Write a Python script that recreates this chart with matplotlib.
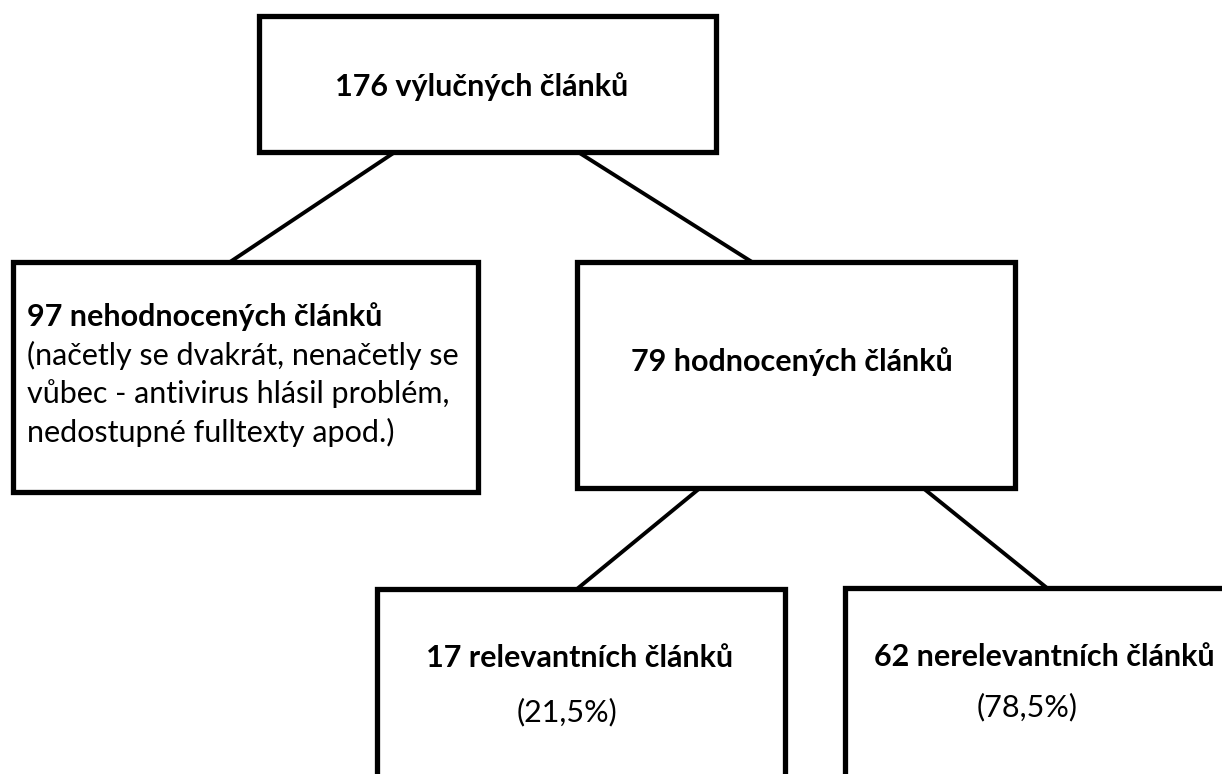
import matplotlib
matplotlib.use('Agg')
import matplotlib.pyplot as plt
from matplotlib.patches import Rectangle

plt.rcParams['font.family'] = ['Lato', 'DejaVu Sans']

# uzly diagramu: pocty clanku a popisky
counts = [176, 97, 79, 17, 62]
titles = ['výlučných článků', 'nehodnocených článků', 'hodnocených článků',
          'relevantních článků', 'nerelevantních článků']
notes = ['', '(načetly se dvakrát, nenačetly se\nvůbec - antivirus hlásil problém,\nnedostupné fulltexty apod.)',
         '', '(21,5%)', '(78,5%)']

# rozlozeni (px): x0, y0, x1, y1
boxes = [(259, 16, 716, 152), (13, 262, 478, 492), (577, 262, 1015, 488),
         (377, 589, 785, 790), (845, 588, 1240, 790)]
links = [((395, 152), (230, 262)), ((578, 152), (752, 262)),
         ((700, 488), (577, 589)), ((923, 488), (1047, 588))]

fig = plt.figure(figsize=(12.22, 7.74), dpi=100)
ax = fig.add_axes([0, 0, 1, 1])
ax.set_xlim(0, 1222)
ax.set_ylim(774, 0)
ax.axis('off')

for (a, b) in links:
    ax.plot([a[0], b[0]], [a[1], b[1]], color='black', lw=2.8, solid_capstyle='butt')

for (x0, y0, x1, y1) in boxes:
    ax.add_patch(Rectangle((x0, y0), x1 - x0, y1 - y0, fill=True, facecolor='white',
                           edgecolor='black', lw=3.8, zorder=2))

fs = 22
ax.text(482, 87, f'{counts[0]} {titles[0]}', ha='center', va='center', fontsize=fs, fontweight='bold', zorder=3)

ax.text(27, 317, f'{counts[1]} {titles[1]}', ha='left', va='center', fontsize=fs, fontweight='bold', zorder=3)
for i, line in enumerate(notes[1].split('\n')):
    ax.text(27, 355 + i * 38.5, line, ha='left', va='center', fontsize=fs, zorder=3)

ax.text(792, 362, f'{counts[2]} {titles[2]}', ha='center', va='center', fontsize=fs, fontweight='bold', zorder=3)

ax.text(580, 658, f'{counts[3]} {titles[3]}', ha='center', va='center', fontsize=fs, fontweight='bold', zorder=3)
ax.text(567, 712, notes[3], ha='center', va='center', fontsize=fs, zorder=3)

ax.text(1044, 657, f'{counts[4]} {titles[4]}', ha='center', va='center', fontsize=fs, fontweight='bold', zorder=3)
ax.text(1027, 707, notes[4], ha='center', va='center', fontsize=fs, zorder=3)

fig.savefig('out.png', dpi=100, facecolor='white')
